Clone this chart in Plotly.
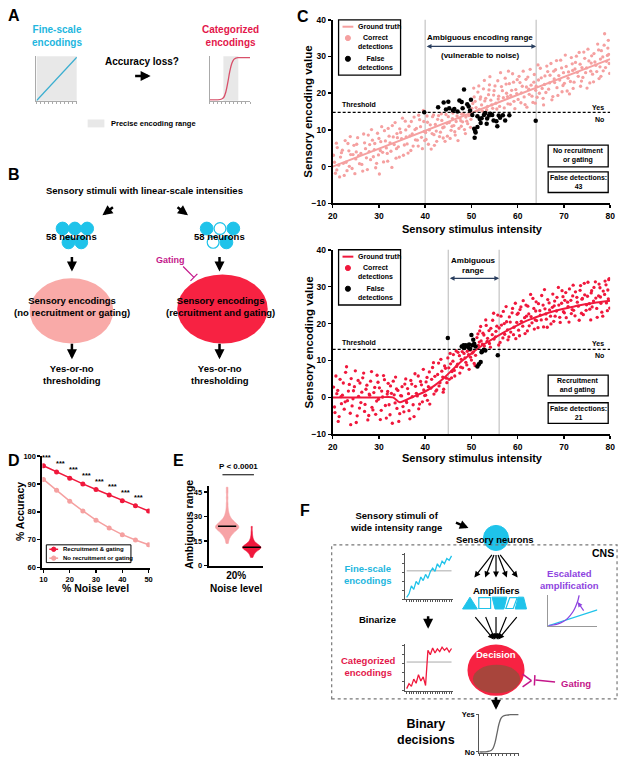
import plotly.graph_objects as go
import numpy as np

W, H = 625, 764
FONT = "Liberation Sans, Arial, Helvetica, sans-serif"

# ======================= DATA =======================
# Panel A sketches
A_FINE_X = [0, 10]
A_FINE_Y = [0, 1]
A_CAT_X = [0, 1, 2, 3, 3.5, 4, 4.5, 5, 5.5, 6, 6.5, 7, 8, 9, 10]
A_CAT_Y = [0.02, 0.02, 0.02, 0.04, 0.08, 0.2, 0.42, 0.68, 0.86, 0.95, 0.98, 0.99, 0.99, 0.99, 0.99]
A_PRECISE_FINE = [0, 10]
A_PRECISE_CAT = [3.4, 7.1]

# Panel C (top): no recruitment or gating
C_XTICKS = [20, 30, 40, 50, 60, 70, 80]
C_YTICKS = [-10, 0, 10, 20, 30, 40]
GT_TOP_X = [20, 80]
GT_TOP_Y = [0.0, 29.3]
THRESH_TOP = 14.8
AMB_TOP = [40, 64]
N_FALSE_TOP = 43
CORR_TOP = [
    (20.2, 3.1), (20.6, -1.8), (21.0, 5.2), (21.3, 0.4), (21.7, 2.6), (20.9, -0.9),
    (22.1, 4.5), (22.5, -2.4), (22.9, 1.2), (23.3, 6.3), (23.6, 0.1), (23.9, 3.3),
    (24.2, -0.5), (24.6, 5.8), (25.0, 2.1), (25.4, 7.9), (25.8, 0.8), (25.1, 4.0),
    (26.1, 3.6), (26.5, -1.2), (26.9, 6.5), (27.3, 2.4), (27.7, 8.6), (27.9, 4.1),
    (28.2, 1.9), (28.6, 7.2), (29.0, 4.6), (29.3, -0.3), (29.7, 9.1), (29.9, 3.2),
    (30.1, -2.0), (30.4, 6.8), (30.8, 3.9), (31.2, 9.8), (31.6, 5.1), (31.9, 1.5),
    (32.2, 8.3), (32.6, 4.2), (32.9, 11.2), (33.3, 6.0), (33.7, 2.3), (33.9, 9.0),
    (34.2, 5.4), (34.5, 10.3), (34.9, 7.6), (35.3, 3.1), (35.7, 12.4), (35.9, 8.1),
    (36.1, 6.2), (36.5, 11.0), (36.9, 4.4), (37.2, 8.9), (37.6, 13.5), (37.9, 7.3),
    (38.1, 10.4), (38.5, 5.6), (38.8, 12.8), (39.2, 8.0), (39.6, 15.3), (39.8, 9.6),
    (40.2, 7.4), (40.5, 12.1), (40.9, 10.0), (41.3, 4.8), (41.6, 13.6), (41.9, 8.7),
    (42.2, 11.5), (42.5, 6.9), (42.9, 13.9), (43.3, 9.4), (43.6, 12.6), (43.9, 7.8),
    (44.1, 10.8), (44.5, 14.2), (44.8, 8.3), (45.2, 12.0), (45.6, 9.9), (45.9, 13.1),
    (46.2, 11.2), (46.5, 8.6), (46.9, 13.8), (47.3, 10.4), (47.7, 12.5), (47.9, 14.3),
    (48.1, 12.2), (48.5, 10.1), (48.8, 13.5), (49.2, 11.7), (49.6, 14.0), (49.9, 12.9),
    (50.3, 17.2), (50.6, 19.0), (51.0, 16.1), (51.4, 20.3), (51.7, 15.6), (51.9, 18.4),
    (52.2, 16.8), (52.6, 21.2), (52.9, 17.9), (53.3, 15.5), (53.7, 19.6), (53.9, 22.3),
    (54.2, 18.1), (54.6, 15.9), (54.9, 20.7), (55.3, 17.3), (55.7, 23.4), (55.9, 19.2),
    (56.1, 16.4), (56.5, 21.8), (56.9, 18.8), (57.3, 24.1), (57.6, 20.0), (57.9, 17.1),
    (58.2, 22.6), (58.5, 19.4), (58.9, 25.3), (59.2, 17.8), (59.6, 21.0), (59.9, 23.7),
    (60.1, 18.3), (60.5, 22.9), (60.8, 20.1), (61.2, 26.0), (61.6, 16.9), (61.9, 21.7),
    (62.2, 24.4), (62.5, 19.7), (62.9, 22.2), (63.3, 17.5), (63.6, 25.1), (63.9, 20.8),
    (64.2, 18.9), (64.5, 23.6), (64.9, 26.8), (65.3, 21.3), (65.6, 16.8), (65.9, 24.7),
    (66.1, 20.2), (66.5, 25.9), (66.9, 22.8), (67.2, 28.1), (67.6, 19.1), (67.9, 23.9),
    (68.2, 26.4), (68.5, 21.5), (68.9, 24.8), (69.3, 29.0), (69.6, 20.4), (69.9, 25.6),
    (70.1, 22.7), (70.5, 27.3), (70.9, 24.1), (71.2, 19.8), (71.6, 29.7), (71.9, 26.2),
    (72.2, 23.0), (72.5, 28.4), (72.9, 25.7), (73.3, 31.1), (73.6, 21.9), (73.9, 27.0),
    (74.1, 24.3), (74.5, 29.5), (74.9, 26.9), (75.2, 32.0), (75.6, 22.8), (75.9, 28.2),
    (76.2, 25.2), (76.5, 30.8), (76.9, 27.6), (77.3, 33.4), (77.6, 24.0), (77.9, 29.3),
    (78.1, 31.6), (78.5, 26.1), (78.8, 36.2), (79.2, 28.7), (79.5, 32.3), (79.9, 25.4), (79.7, 30.6),
    (20.4, 1.2), (20.8, 6.4), (21.5, -2.8), (21.9, 3.8), (22.3, 0.9), (22.7, 7.1), (23.1, -1.1),
    (23.5, 4.3), (23.8, 8.2), (24.4, 3.3), (24.8, -1.9), (25.2, 6.1), (25.6, 3.0), (26.3, 0.6),
    (26.7, 8.9), (27.1, 4.9), (27.5, -0.8), (28.0, 6.0), (28.4, 10.1), (28.8, 2.7), (29.1, 6.3),
    (29.5, 0.9), (30.0, 7.7), (30.3, 4.4), (30.6, 10.9), (31.0, 1.3), (31.4, 7.0), (31.8, 3.6),
    (32.0, 10.4), (32.4, 6.5), (32.8, -0.2), (33.1, 8.1), (33.5, 12.0), (33.8, 4.9), (34.0, 7.9),
    (34.4, 2.6), (34.7, 9.3), (35.1, 13.2), (35.5, 5.9), (35.8, 10.0), (36.3, 3.7), (36.7, 8.4),
    (37.0, 12.3), (37.4, 5.6), (37.8, 10.1), (38.3, 7.2), (38.6, 14.0), (39.0, 10.9), (39.4, 4.9),
    (39.7, 12.3), (39.9, 7.1),
    (40.1, 9.3), (40.4, 13.8), (40.7, 6.1), (41.1, 11.4), (41.5, 9.0), (41.8, 14.1), (42.0, 5.8),
    (42.4, 9.7), (42.7, 12.9), (43.1, 8.2), (43.5, 14.4), (43.8, 10.6), (44.3, 6.9), (44.7, 11.8),
    (45.0, 13.6), (45.4, 7.7), (45.8, 11.0), (46.0, 14.6), (46.4, 9.5), (46.7, 12.3), (47.1, 7.1),
    (47.5, 13.2), (47.8, 11.0), (48.3, 14.5), (48.7, 9.0), (49.0, 12.4), (49.4, 13.9), (49.8, 10.7),
    (50.1, 15.9), (50.5, 21.4), (50.8, 17.8), (51.2, 15.2), (51.6, 22.0), (52.0, 19.0), (52.4, 15.1),
    (52.8, 23.5), (53.1, 18.6), (53.5, 16.4), (53.8, 20.9), (54.0, 24.5), (54.4, 16.8), (54.8, 19.5),
    (55.1, 22.0), (55.5, 15.7), (55.8, 18.4), (56.3, 25.6), (56.7, 20.7), (57.1, 16.0), (57.5, 22.5),
    (57.8, 19.1), (58.0, 26.0), (58.4, 17.0), (58.7, 20.8), (59.1, 23.0), (59.4, 15.8), (59.8, 19.9),
    (60.3, 24.6), (60.7, 17.4), (61.0, 21.9), (61.4, 19.0), (61.8, 23.8), (62.0, 16.2), (62.4, 21.1),
    (62.7, 26.5), (63.1, 19.2), (63.5, 23.0), (63.8, 17.3),
    (64.0, 21.9), (64.4, 27.7), (64.7, 20.0), (65.1, 24.2), (65.5, 18.6), (65.8, 22.4), (66.3, 27.4),
    (66.7, 21.1), (67.0, 24.9), (67.4, 18.2), (67.8, 26.0), (68.0, 22.9), (68.4, 28.9), (68.7, 19.4),
    (69.1, 23.6), (69.5, 26.9), (69.8, 22.1), (70.3, 30.4), (70.7, 20.6), (71.0, 25.8), (71.4, 23.2),
    (71.8, 28.0), (72.0, 21.3), (72.4, 26.6), (72.7, 30.1), (73.1, 24.6), (73.5, 27.9), (73.8, 23.3),
    (74.3, 31.2), (74.7, 25.6), (75.0, 21.4), (75.4, 28.8), (75.8, 26.0), (76.0, 30.2), (76.4, 23.1),
    (76.7, 28.5), (77.1, 25.9), (77.5, 31.8), (77.8, 27.2), (78.0, 24.6), (78.4, 29.9), (78.7, 33.1),
    (79.0, 27.0), (79.4, 30.3), (79.6, 34.4), (79.8, 28.1),
]
FALSE_TOP = [
    (39.8, 14.8), (42.8, 16.2), (44.0, 17.5), (45.0, 17.7), (45.2, 15.9), (46.0, 15.3),
    (46.3, 15.7), (47.0, 15.0), (47.4, 18.0), (47.9, 17.6), (48.4, 21.0), (49.1, 17.0),
    (49.4, 16.4), (49.7, 15.3), (49.9, 18.2), (50.2, 14.1), (50.6, 10.3), (50.8, 9.7),
    (50.7, 7.9), (50.9, 9.3), (51.3, 13.7), (51.8, 13.0), (52.0, 11.9), (52.7, 14.1),
    (53.0, 14.6), (53.4, 13.1), (53.8, 13.9), (54.1, 14.4), (54.5, 14.1), (53.3, 11.7),
    (54.8, 12.6), (55.4, 12.4), (55.9, 13.9), (56.2, 13.3), (56.8, 14.0), (57.3, 12.6),
    (58.2, 14.0), (63.9, 12.5), (44.5, 15.6), (48.1, 15.9), (51.3, 10.8), (52.2, 13.2),
    (55.6, 11.0),
]

# Panel C (bottom): recruitment and gating
GT_BOT_X = [20, 25, 30, 33, 34.5, 36, 38, 40, 42, 44, 46, 48, 50, 52, 54, 56, 58, 60, 62, 65, 68, 71, 74, 77, 80]
GT_BOT_Y = [0, 0, 0, 0, -1.3, -0.6, 0.5, 1.6, 3.2, 5.2, 7.6, 9.9, 11.9, 13.8, 15.4, 16.9, 18.3, 19.6, 20.8, 22.2, 23.4, 24.3, 25.1, 25.7, 26.2]
THRESH_BOT = 13.0
AMB_BOT = [45, 56]
N_FALSE_BOT = 21
CORR_BOT = [
    (20.2, 2.8), (20.5, -4.1), (20.9, 1.0), (21.2, -6.5), (21.6, 4.9), (21.9, -1.7),
    (22.1, 0.6), (22.5, -3.2), (22.8, 6.8), (23.2, -0.9), (23.6, 3.5), (23.9, -7.4),
    (24.2, -2.3), (24.5, 1.8), (24.9, 7.2), (25.3, -5.0), (25.6, 0.3), (25.9, 3.9),
    (26.1, -1.4), (26.5, 5.3), (26.9, -3.8), (27.2, 2.2), (27.6, -6.1), (27.9, 0.9),
    (28.2, 4.4), (28.5, -2.7), (28.9, 1.3), (29.3, -4.6), (29.6, 6.0), (29.9, -0.5),
    (30.1, 2.6), (30.5, -3.5), (30.8, 0.1), (31.2, 4.8), (31.6, -5.6), (31.9, 1.6),
    (32.2, -2.0), (32.5, 3.1), (32.9, -7.0), (33.3, 0.7), (33.6, 5.5), (33.9, -3.0),
    (34.1, 1.9), (34.5, -4.4), (34.9, 0.4), (35.2, -2.5), (35.6, 3.6), (35.9, -1.0),
    (36.2, 2.4), (36.5, -3.6), (36.9, 4.6), (37.2, 0.2), (37.6, -5.2), (37.9, 3.0),
    (38.1, 1.1), (38.5, 5.8), (38.8, -1.8), (39.2, 3.4), (39.6, 7.6), (39.9, 0.5),
    (40.2, 4.2), (40.5, -0.8), (40.9, 6.9), (41.2, 2.5), (41.6, 8.1), (41.9, 0.9),
    (42.1, 5.7), (42.5, 2.0), (42.9, 9.3), (43.2, 4.0), (43.6, 7.1), (43.9, 1.4),
    (44.2, 8.5), (44.6, 5.2), (44.9, 10.7),
    (45.2, 4.9), (45.5, 9.1), (45.8, 7.0), (46.1, 11.6), (46.4, 5.8), (46.8, 8.4), (47.1, 12.2), (47.5, 6.6),
    (47.8, 10.3), (48.1, 8.0), (48.4, 11.9), (48.8, 9.5), (49.1, 12.5), (49.5, 7.6), (49.8, 10.9),
    (50.2, 12.0), (50.6, 9.2), (50.9, 11.4),
    (51.2, 16.2), (51.5, 14.1), (51.8, 18.0), (52.1, 15.3), (52.5, 17.4), (52.8, 13.9), (53.2, 19.5),
    (53.5, 16.0), (53.9, 14.6), (54.2, 18.7), (54.6, 20.9), (54.9, 15.8), (55.3, 17.9), (55.7, 22.3),
    (56.2, 14.9), (56.5, 19.6), (56.9, 23.3), (57.2, 17.1), (57.6, 20.5), (57.9, 15.6),
    (58.2, 21.8), (58.5, 17.7), (58.9, 24.1), (59.2, 19.0), (59.6, 15.9), (59.9, 22.5),
    (60.2, 18.2), (60.5, 23.8), (60.8, 20.6), (61.2, 26.2), (61.6, 17.3), (61.9, 22.0),
    (62.2, 24.7), (62.5, 19.4), (62.9, 21.9), (63.3, 26.8), (63.6, 18.5), (63.9, 23.4),
    (64.1, 20.8), (64.5, 25.4), (64.9, 22.3), (65.2, 27.6), (65.6, 19.1), (65.9, 24.0),
    (66.2, 21.2), (66.5, 26.5), (66.9, 23.7), (67.2, 19.9), (67.6, 28.0), (67.9, 24.8),
    (68.1, 22.0), (68.5, 27.1), (68.9, 25.0), (69.2, 20.3), (69.6, 28.9), (69.9, 23.2),
    (70.2, 26.3), (70.5, 21.6), (70.9, 24.6), (71.2, 29.4), (71.6, 22.7), (71.9, 27.5),
    (72.1, 23.6), (72.5, 28.6), (72.9, 25.8), (73.3, 20.9), (73.6, 30.3), (73.9, 26.6),
    (74.2, 22.4), (74.5, 27.8), (74.9, 25.1), (75.2, 31.2), (75.6, 23.9), (75.9, 28.3),
    (76.1, 24.5), (76.5, 29.8), (76.9, 26.9), (77.2, 21.7), (77.6, 30.7), (77.9, 27.2),
    (78.2, 23.1), (78.5, 28.8), (78.9, 31.5), (79.2, 25.6), (79.5, 29.1), (79.9, 24.2), (79.7, 31.9),
    (20.4, -2.6), (20.7, 5.8), (21.1, 1.9), (21.4, -5.2), (21.8, 0.2), (22.3, 3.9), (22.7, -1.2),
    (23.0, 8.3), (23.4, 1.7), (23.8, -4.3), (24.0, 5.1), (24.4, -0.4), (24.7, 2.9), (25.1, -6.8),
    (25.5, 4.6), (25.8, -2.9), (26.3, 1.4), (26.7, 6.6), (27.0, -1.9), (27.4, 3.3), (27.8, -4.9),
    (28.0, 0.6), (28.4, 7.0), (28.7, -3.4), (29.1, 2.7), (29.5, -1.0), (29.8, 4.1), (30.3, -6.0),
    (30.6, 1.7), (31.0, 5.9), (31.4, -2.2), (31.8, 0.9), (32.0, 3.8), (32.4, -4.7), (32.7, 1.1),
    (33.1, 4.4), (33.5, -1.5), (33.8, 2.3), (34.3, -6.5), (34.7, 0.5), (35.0, 2.9), (35.4, -3.9),
    (35.8, 5.0), (36.0, -1.4), (36.4, 1.0), (36.7, -5.8), (37.1, 3.6), (37.4, -2.0), (37.8, 6.4),
    (38.3, 0.4), (38.6, -3.1), (39.0, 4.3), (39.4, -1.2), (39.7, 2.0),
    (40.1, 0.6), (40.4, 5.4), (40.7, 2.9), (41.0, -1.8), (41.4, 4.9), (41.8, 9.4), (42.3, 1.7),
    (42.7, 6.2), (43.0, 3.1), (43.4, 10.3), (43.8, 5.5), (44.0, 2.2), (44.4, 7.9), (44.7, 4.0),
    (45.1, 8.0), (45.4, 11.9), (45.7, 5.3), (46.0, 9.8), (46.3, 7.3), (46.7, 12.6), (47.0, 9.0),
    (47.4, 11.3), (47.7, 8.2), (48.0, 12.4), (48.6, 10.7), (49.0, 8.8), (49.4, 11.6), (49.7, 12.8),
    (50.0, 10.1), (50.4, 12.3), (50.8, 8.6),
    (51.4, 17.2), (51.7, 15.0), (52.0, 19.2), (52.4, 14.4), (52.7, 16.9), (53.1, 21.0), (53.4, 15.2),
    (53.8, 18.1), (54.1, 13.6), (54.5, 17.0), (54.8, 22.8), (55.2, 16.4), (55.5, 19.3), (55.9, 14.2),
    (56.0, 18.8), (56.4, 22.0), (56.8, 16.1), (57.1, 20.0), (57.5, 24.6), (57.8, 18.3), (58.1, 16.4),
    (58.4, 20.4), (58.8, 22.9), (59.1, 17.0), (59.5, 25.5), (59.8, 20.3), (60.1, 22.8), (60.4, 16.7),
    (60.7, 24.5), (61.1, 19.3), (61.5, 21.6), (61.8, 25.0), (62.1, 18.0), (62.4, 22.6), (62.8, 27.9),
    (63.1, 20.2), (63.5, 24.1), (63.8, 21.0), (64.0, 25.9), (64.4, 18.9), (64.8, 23.5), (65.1, 21.0),
    (65.5, 25.0), (65.8, 29.2), (66.1, 22.6), (66.4, 19.0), (66.8, 25.6), (67.1, 22.0), (67.5, 24.4),
    (67.8, 20.6), (68.0, 26.1), (68.4, 23.4), (68.8, 29.8), (69.1, 21.7), (69.5, 25.5), (69.8, 27.3),
    (70.1, 22.9), (70.4, 28.4), (70.8, 25.8), (71.1, 20.4), (71.5, 26.3), (71.8, 23.8), (72.0, 30.4),
    (72.4, 22.1), (72.8, 27.1), (73.1, 24.7), (73.5, 29.0), (73.8, 22.8), (74.0, 26.8), (74.4, 30.9),
    (74.8, 23.6), (75.1, 27.4), (75.5, 25.4), (75.8, 21.0), (76.0, 28.9), (76.4, 26.1), (76.8, 31.3),
    (77.1, 24.1), (77.5, 27.5), (77.8, 29.7), (78.0, 25.5), (78.4, 22.0), (78.8, 27.9), (79.1, 30.5),
    (79.4, 23.5), (79.6, 26.7), (79.8, 32.2),
]
FALSE_BOT = [
    (44.9, 16.1), (47.9, 13.8), (48.4, 13.4), (48.8, 14.1), (49.3, 13.6), (49.7, 13.2),
    (50.0, 16.9), (50.4, 15.6), (50.2, 14.1), (50.9, 13.8), (51.3, 8.4), (51.6, 9.0),
    (52.0, 9.6), (52.3, 12.5), (52.7, 12.9), (53.0, 12.7), (52.2, 12.2), (55.7, 11.4),
    (50.6, 14.5), (49.5, 14.3), (48.3, 14.1),
]

# Panel D: accuracy vs noise
NOISE = [10, 15, 20, 25, 30, 35, 40, 45, 50]
ACC_RG = [96.5, 94.3, 92.0, 90.0, 88.0, 86.0, 84.0, 82.2, 80.3]
ACC_NO = [91.6, 87.7, 83.8, 80.3, 77.0, 74.2, 71.8, 69.9, 68.2]
D_SIG = ['***'] * 9
D_XTICKS = [10, 20, 30, 40, 50]
D_YTICKS = [60, 70, 80, 90, 100]

# Panel E: ambiguous range at 20% noise
E_NO = [13.5, 15.2, 16.8, 17.5, 18.3, 18.9, 19.4, 19.8, 20.2, 20.6, 20.9, 21.2, 21.5, 21.8,
        22.0, 22.3, 22.5, 22.7, 22.9, 23.1, 23.3, 23.5, 23.6, 23.8, 24.0, 24.2, 24.4, 24.6,
        24.8, 25.0, 25.3, 25.5, 25.8, 26.1, 26.4, 26.7, 27.0, 27.4, 27.8, 28.3, 28.9, 29.6,
        30.5, 31.6, 33.0, 35.2, 38.0, 41.5, 45.0, 48.0]
E_RG = [5.0, 6.2, 7.1, 7.8, 8.4, 8.8, 9.2, 9.5, 9.8, 10.0, 10.2, 10.4, 10.6, 10.8, 10.9,
        11.0, 11.1, 11.2, 11.4, 11.5, 11.7, 11.9, 12.1, 12.3, 12.5, 12.8, 13.1, 13.5, 14.0,
        14.6, 15.3, 16.4, 18.0, 20.5, 24.0]
E_YTICKS = [0, 15, 30, 45]
E_P = "P < 0.0001"

# Panel F sketches
F_FINE_Y = [0.04, 0.12, 0.3, 0.22, 0.4, 0.33, 0.5, 0.42, 0.56, 0.47, 0.62, 0.7, 0.63, 0.8, 0.72, 0.86, 0.8, 0.92, 0.88, 0.98]
F_CAT_Y = [0.05, 0.16, 0.1, 0.26, 0.17, 0.36, 0.22, 0.31, 0.12, 0.9, 0.8, 0.95, 0.84, 0.93, 0.87, 0.97, 0.9, 0.95, 0.86, 0.94]
F_REF = 0.64
F_ESC_LIN_X = [0, 1]
F_ESC_LIN_Y = [0, 0.52]
F_ESC_EXP_X = [0, 0.1, 0.2, 0.3, 0.4, 0.5, 0.55, 0.6, 0.63]
F_ESC_EXP_Y = [0, 0.02, 0.06, 0.13, 0.25, 0.45, 0.6, 0.8, 1.0]
F_BIN_X = [0, 1, 2, 3, 3.5, 4, 4.5, 5, 5.5, 6, 7, 8, 10]
F_BIN_Y = [0.0, 0.0, 0.01, 0.04, 0.1, 0.25, 0.5, 0.75, 0.9, 0.96, 0.99, 1, 1]

# ======================= STYLE =======================
CYAN = '#1fc3ea'
CYAN_TXT = '#22b6de'
RED = '#f0183c'
RED_TXT = '#e3174b'
PINK = '#f5a0a0'
PINK_ELL = '#f9aaa8'
RED_ELL = '#f72242'
MAG = '#c4168a'
PURPLE = '#8e44e0'
BROWN = '#a8453c'


def X(px):
    return px / W


def Y(py):
    return 1 - py / H


fig = go.Figure()
axes = {}


def ax_names(i):
    s = '' if i == 1 else str(i)
    return 'x' + s, 'y' + s


def add_axes(i, xpx, ypx, xr, yr, xs=None, ys=None):
    xn, yn = ax_names(i)
    base = dict(showgrid=False, zeroline=False, fixedrange=True, showticklabels=False, ticks='', showline=False)
    xa = dict(base, domain=[xpx[0] / W, xpx[1] / W], range=xr, anchor=yn)
    ya = dict(base, domain=[1 - ypx[1] / H, 1 - ypx[0] / H], range=yr, anchor=xn)
    if xs:
        xa.update(xs)
    if ys:
        ya.update(ys)
    axes['xaxis' + xn[1:]] = xa
    axes['yaxis' + yn[1:]] = ya


def mstyle(ticks, size=8.5, lw=2):
    return dict(showline=True, linecolor='black', linewidth=lw, ticks='outside', ticklen=3, tickwidth=1.5,
                tickcolor='black', tickvals=ticks, showticklabels=True,
                tickfont=dict(family=FONT, size=size, color='black', weight='bold'))


def minis(color, dtick=None, ticks=True):
    d = dict(showline=True, linecolor=color, linewidth=1)
    if ticks:
        d.update(ticks='outside', ticklen=2, tickwidth=1, tickcolor=color, dtick=dtick, tick0=0)
    return d


add_axes(1, [333, 615], [15, 201], [20, 80], [-10, 40], mstyle(C_XTICKS), mstyle(C_YTICKS))
add_axes(2, [333, 615], [248, 435], [20, 80], [-10, 40], mstyle(C_XTICKS), mstyle(C_YTICKS))
add_axes(3, [38, 147], [457, 570], [9.6, 50.4], [60, 100], mstyle(D_XTICKS, 7.5), mstyle(D_YTICKS, 7.5))
add_axes(4, [207, 262], [487, 568], [-0.75, 1.45], [0, 49],
         dict(showline=True, linecolor='black', linewidth=2), mstyle(E_YTICKS, 7.5))
add_axes(5, [32, 73], [52, 97], [0, 10], [0, 1.02], minis('#aaaaaa', 1), minis('#aaaaaa', ticks=False))
add_axes(6, [208, 249], [52, 97], [0, 10], [0, 1.02], minis('#aaaaaa', 1), minis('#aaaaaa', ticks=False))
add_axes(7, [407, 455], [555, 602], [-0.5, 19.5], [0, 1.05], minis('#555555', 1), minis('#555555', 0.2))
add_axes(8, [407, 455], [647, 695], [-0.5, 19.5], [0, 1.05], minis('#555555', 1), minis('#555555', 0.2))
add_axes(9, [552, 602], [598, 629], [0, 1], [0, 1], minis('#999999', ticks=False), minis('#999999', ticks=False))
add_axes(10, [482, 522], [718, 758], [0, 10], [-0.03, 1.03], minis('#555555', 1),
         dict(showline=True, linecolor='#555555', linewidth=1, ticks='outside', ticklen=2, tickcolor='#555555',
              tickvals=[0, 1], ticktext=['No', 'Yes'], showticklabels=True,
              tickfont=dict(family=FONT, size=7.5, color='black', weight='bold')))


def tr(i, x, y, **kw):
    xn, yn = ax_names(i)
    fig.add_trace(go.Scatter(x=x, y=y, xaxis=xn, yaxis=yn, hoverinfo='skip', showlegend=False, **kw))


# ---- A sketches
tr(5, A_FINE_X, A_FINE_Y, mode='lines', line=dict(color='#3aaed0', width=1.3))
tr(6, A_CAT_X, A_CAT_Y, mode='lines', line=dict(color='#d8506a', width=1.3, shape='spline'))

# ---- C top
tr(1, [p[0] for p in CORR_TOP], [p[1] for p in CORR_TOP], mode='markers',
   marker=dict(color=PINK, size=3.3))
tr(1, GT_TOP_X, GT_TOP_Y, mode='lines', line=dict(color=PINK, width=2))
tr(1, [p[0] for p in FALSE_TOP], [p[1] for p in FALSE_TOP], mode='markers',
   marker=dict(color='black', size=4.5))

# ---- C bottom
tr(2, [p[0] for p in CORR_BOT], [p[1] for p in CORR_BOT], mode='markers',
   marker=dict(color=RED, size=3.3))
tr(2, GT_BOT_X, GT_BOT_Y, mode='lines', line=dict(color=RED, width=2, shape='spline'))
tr(2, [p[0] for p in FALSE_BOT], [p[1] for p in FALSE_BOT], mode='markers',
   marker=dict(color='black', size=4.5))

# ---- D
tr(3, NOISE, ACC_NO, mode='lines+markers', line=dict(color=PINK, width=1.5), marker=dict(color=PINK, size=5))
tr(3, NOISE, ACC_RG, mode='lines+markers', line=dict(color=RED, width=1.5), marker=dict(color=RED, size=5))

# ---- E
for pos, vals, col, wd in [(0, E_NO, '#f7a3a6', 0.95), (1, E_RG, RED, 0.75)]:
    fig.add_trace(go.Violin(y=vals, x0=pos, xaxis='x4', yaxis='y4', width=wd, fillcolor=col,
                            line=dict(color=col, width=0.6), opacity=1, points=False, spanmode='hard',
                            bandwidth=1.3, hoverinfo='skip', showlegend=False, scalemode='width'))
tr(4, [0, 1], [float(np.median(E_NO)), float(np.median(E_RG))], mode='markers',
   marker=dict(symbol='line-ew-open', size=13, color='black', line=dict(color='black', width=1.5)))

# ---- F sketches
tr(7, list(range(len(F_FINE_Y))), [F_REF] * len(F_FINE_Y), mode='lines', line=dict(color='#aaaaaa', width=1))
tr(7, list(range(len(F_FINE_Y))), F_FINE_Y, mode='lines', line=dict(color=CYAN, width=1.3))
tr(8, list(range(len(F_CAT_Y))), [F_REF] * len(F_CAT_Y), mode='lines', line=dict(color='#aaaaaa', width=1))
tr(8, list(range(len(F_CAT_Y))), F_CAT_Y, mode='lines', line=dict(color=RED, width=1.3))
tr(9, F_ESC_LIN_X, F_ESC_LIN_Y, mode='lines', line=dict(color=CYAN, width=1.3))
tr(9, F_ESC_EXP_X, F_ESC_EXP_Y, mode='lines', line=dict(color=PURPLE, width=1.3, shape='spline'))
tr(10, F_BIN_X, F_BIN_Y, mode='lines', line=dict(color='#666666', width=1.3, shape='spline'))

# ======================= SHAPES =======================
shapes = []


def circ(cx, cy, r, fill, line=None, lw=1):
    shapes.append(dict(type='circle', xref='paper', yref='paper', x0=X(cx - r), x1=X(cx + r),
                       y0=Y(cy + r), y1=Y(cy - r), fillcolor=fill, line=dict(color=line or fill, width=lw)))


def ell(cx, cy, rx, ry, fill):
    shapes.append(dict(type='circle', xref='paper', yref='paper', x0=X(cx - rx), x1=X(cx + rx),
                       y0=Y(cy + ry), y1=Y(cy - ry), fillcolor=fill, line=dict(width=0)))


def ln(x1, y1, x2, y2, color='black', width=1, dash=None):
    shapes.append(dict(type='line', xref='paper', yref='paper', x0=X(x1), y0=Y(y1), x1=X(x2), y1=Y(y2),
                       line=dict(color=color, width=width, dash=dash)))


def rect(x1, y1, x2, y2, fill='rgba(0,0,0,0)', line='black', lw=1.3, dash=None):
    shapes.append(dict(type='rect', xref='paper', yref='paper', x0=X(x1), y0=Y(y2), x1=X(x2), y1=Y(y1),
                       fillcolor=fill, line=dict(color=line, width=lw, dash=dash)))


def poly(pts, fill, line=None, lw=1):
    d = 'M ' + ' L '.join(f'{X(a):.5f},{Y(b):.5f}' for a, b in pts) + ' Z'
    shapes.append(dict(type='path', xref='paper', yref='paper', path=d, fillcolor=fill,
                       line=dict(color=line or fill, width=lw)))


# A: precise encoding ranges
shapes.append(dict(type='rect', xref='x5', yref='y5 domain', x0=A_PRECISE_FINE[0], x1=A_PRECISE_FINE[1],
                   y0=0, y1=1, fillcolor='#e8e8e8', line=dict(width=0), layer='below'))
shapes.append(dict(type='rect', xref='x6', yref='y6 domain', x0=A_PRECISE_CAT[0], x1=A_PRECISE_CAT[1],
                   y0=0, y1=1, fillcolor='#e8e8e8', line=dict(width=0), layer='below'))
rect(84, 116, 101, 124, fill='#e8e8e8', line='#e8e8e8', lw=0)

# B: neurons
for cx, cy in [(58.5, 226.5), (71, 226.5), (83.5, 226.5), (64.5, 240.5), (77.5, 240.5)]:
    circ(cx, cy, 6.5, CYAN)
for cx, cy, op in [(205, 226.5, 0), (218.5, 226.5, 1), (232, 226.5, 0), (211.5, 240.5, 1), (225, 240.5, 0)]:
    if op:
        circ(cx, cy, 6.0, 'white', CYAN, 1.2)
    else:
        circ(cx, cy, 6.5, CYAN)
ell(67.5, 310, 42.5, 33, PINK_ELL)
ell(221, 308, 46, 35, RED_ELL)
ln(181, 265, 192, 276, MAG, 1.2)
ln(188.5, 279.5, 195.5, 272.5, MAG, 1.2)

# C: thresholds and ambiguous ranges
for i, thr, amb in [(1, THRESH_TOP, AMB_TOP), (2, THRESH_BOT, AMB_BOT)]:
    xn, yn = ax_names(i)
    for a in amb:
        shapes.append(dict(type='line', xref=xn, yref=yn + ' domain', x0=a, x1=a, y0=0, y1=1,
                           line=dict(color='#c8c8c8', width=1.3), layer='below'))
    shapes.append(dict(type='line', xref=xn, yref=yn, x0=20, x1=80, y0=thr, y1=thr,
                       line=dict(color='black', width=1.2, dash='3px,2px')))

# C legends and boxes
for top, col in [(15, PINK), (248, RED)]:
    rect(339, top, 402, top + 56)
    ln(343, top + 7, 354, top + 7, col, 2)
    circ(348.5, top + 18.5, 2.6, col)
    circ(348.5, top + 39.5, 2.6, 'black')
rect(552, 142, 613, 164)
rect(552, 169, 613, 190)
rect(552, 375, 613, 396)
rect(552, 403, 613, 424)

# D legend
rect(42, 547, 128, 565, lw=1)
ln(45, 551.5, 54, 551.5, RED, 1.5)
circ(49.5, 551.5, 2.2, RED)
ln(45, 560.5, 54, 560.5, PINK, 1.5)
circ(49.5, 560.5, 2.2, PINK)

# E bracket
ln(221, 476, 253, 476, 'black', 1)

# F
circ(499, 540, 12.7, CYAN)
rect(332, 547, 622, 703, line='#777777', lw=1.2, dash='dot')
poly([(465, 612), (480, 612), (472.5, 600)], CYAN)
poly([(481.5, 600.5), (493.5, 600.5), (493.5, 611.5), (481.5, 611.5)], 'white', CYAN, 1.2)
poly([(495, 600), (510, 600), (507, 612), (498, 612)], CYAN)
poly([(513, 600.5), (520.5, 600.5), (516.5, 611.5), (509, 611.5)], 'white', CYAN, 1.2)
poly([(521.5, 600), (527, 600), (530, 612), (518.5, 612)], CYAN)
ell(499, 674, 29, 26, RED_ELL)
ell(499.5, 683, 24, 14.5, BROWN)
ln(559, 686, 539, 684, MAG, 1.5)
ln(538.5, 679, 538, 689.5, MAG, 1.5)
ln(526, 678, 535, 684.5, MAG, 1.5)
ln(526, 691, 535, 684.5, MAG, 1.5)

# ======================= ANNOTATIONS =======================
ann = []


def T(px, py, text, size=9.5, color='black', bold=True, xa='center', ya='middle', angle=0):
    ann.append(dict(x=X(px), y=Y(py), xref='paper', yref='paper', text=text, showarrow=False,
                    font=dict(family=FONT, size=size, color=color, weight='bold' if bold else 'normal'),
                    xanchor=xa, yanchor=ya, textangle=angle))


def AR(x1, y1, x2, y2, width=2, size=1.0, head=2, color='black'):
    ann.append(dict(x=X(x2), y=Y(y2), xref='paper', yref='paper', ax=x1 - x2, ay=y1 - y2,
                    axref='pixel', ayref='pixel', showarrow=True, arrowhead=head, arrowsize=size,
                    arrowwidth=width, arrowcolor=color, text=''))


# panel letters
for lt, px, py in [('A', 9, 11), ('B', 9, 172), ('C', 303, 12), ('D', 9, 462), ('E', 176, 462), ('F', 305, 512)]:
    T(px, py, lt, size=16)

# A
T(53, 31, 'Fine-scale<br>encodings', 10, CYAN_TXT)
T(229, 31, 'Categorized<br>encodings', 10, RED_TXT)
T(139, 57, 'Accuracy loss?', 10)
AR(131, 72, 148, 72, width=2.5, size=0.8)
T(106, 120, 'Precise encoding range', 7.5, xa='left')

# B
T(142, 188, 'Sensory stimuli with linear-scale intensities', 9.5)
AR(111, 204, 99, 213, width=2.5, size=0.8)
AR(174, 204, 186, 213, width=2.5, size=0.8)
T(68, 235, '58 neurons', 9.5)
T(218, 235, '58 neurons', 9.5)
AR(68, 254, 68, 270, width=2.5, size=0.8)
AR(218, 254, 218, 270, width=2.5, size=0.8)
T(168, 258, 'Gating', 9, MAG)
T(68, 306, 'Sensory encodings<br>(no recruitment or gating)', 9.5)
T(219, 306, 'Sensory encodings<br>(recruitment and gating)', 9.5)
AR(68, 342, 68, 359, width=2.5, size=0.8)
AR(218, 342, 218, 359, width=2.5, size=0.8)
T(68, 374.5, 'Yes-or-no<br>thresholding', 9.5)
T(219, 374.5, 'Yes-or-no<br>thresholding', 9.5)

# C top
T(308, 108, 'Sensory encoding value', 11.5, angle=-90)
T(475, 227, 'Sensory stimulus intensity', 11)
T(357, 22, 'Ground truth', 7, xa='left')
T(357, 37.5, 'Correct<br>detections', 7, xa='left')
T(357, 58.5, 'False<br>detections', 7, xa='left')
T(483, 33, 'Ambiguous encoding range', 8)
T(483, 51, '(vulnerable to noise)', 8)
ann.append(dict(x=AMB_TOP[1], y=Y(42), xref='x', yref='paper', ax=AMB_TOP[0], axref='x', ay=0, ayref='pixel',
                showarrow=True, arrowhead=2, arrowsize=0.8, arrowwidth=1.2, arrowside='end+start', text=''))
T(340, 101, 'Threshold', 7, xa='left')
T(611, 104, 'Yes', 7, xa='right')
T(611, 116, 'No', 7, xa='right')
T(582.5, 153, 'No recruitment<br>or gating', 7)
T(582.5, 179.5, f'False detections:<br>{N_FALSE_TOP}', 7)

# C bottom
T(308, 342, 'Sensory encoding value', 11.5, angle=-90)
T(475, 459, 'Sensory stimulus intensity', 11)
T(357, 255, 'Ground truth', 7, xa='left')
T(357, 270.5, 'Correct<br>detections', 7, xa='left')
T(357, 291.5, 'False<br>detections', 7, xa='left')
T(476, 264, 'Ambiguous<br>range', 8)
ann.append(dict(x=AMB_BOT[1], y=Y(277), xref='x2', yref='paper', ax=AMB_BOT[0], axref='x2', ay=0, ayref='pixel',
                showarrow=True, arrowhead=2, arrowsize=0.8, arrowwidth=1.2, arrowside='end+start', text=''))
T(340, 342, 'Threshold', 7, xa='left')
T(611, 343, 'Yes', 7, xa='right')
T(611, 355, 'No', 7, xa='right')
T(582.5, 385.5, 'Recruitment<br>and gating', 7)
T(582.5, 413.5, f'False detections:<br>{N_FALSE_BOT}', 7)

# D
T(16, 513, '% Accuracy', 10.5, angle=-90)
T(92, 591, '% Noise level', 10.5)
T(57, 551.5, 'Recruitment &amp; gating', 6, xa='left')
T(57, 560.5, 'No recruitment or gating', 6, xa='left')
for xv, yv, s in zip(NOISE, ACC_RG, D_SIG):
    ann.append(dict(x=xv + 1.3, y=yv + 3.0, xref='x3', yref='y3', text=s, showarrow=False,
                    font=dict(family=FONT, size=7.5, color='black', weight='bold')))

# E
T(187, 527, 'Ambiguous range', 10.5, angle=-90)
T(235, 585, '20%<br>Noise level', 10)
T(237, 468, E_P, 8)

# F
T(397, 523.5, 'Sensory stimuli of<br>wide intensity range', 9.5)
AR(457, 524, 471, 530, width=2.5, size=0.7)
T(498, 542, 'Sensory neurons', 9.5)
T(608, 555, 'CNS', 10.5)
T(369, 577.5, 'Fine-scale<br>encodings', 9.5, CYAN_TXT)
for hx in [477, 488, 499, 510, 521]:
    AR(499 + (hx - 499) * 0.15, 556, hx, 580, width=1.2, size=1)
T(499, 593, 'Amplifiers', 9.5)
T(574, 582, 'Escalated<br>amplification', 9.5, PURPLE)
AR(589, 615, 582, 605, width=1.2, size=0.8, color=PURPLE)
T(379, 623, 'Binarize', 9.5)
AR(430, 618, 430, 632, width=2.5, size=0.8)
for tx in [477, 488, 499, 510, 521]:
    AR(tx, 619, 499 + (tx - 499) * 0.1, 643, width=1.2, size=1)
T(369, 670.5, 'Categorized<br>encodings', 9.5, RED_TXT)
T(499, 658, 'Decision', 9.5, 'white')
T(580, 687, 'Gating', 9.5, MAG)
AR(499, 700, 499, 714, width=2.5, size=0.8)
T(428, 737, 'Binary<br>decisions', 12.5)

fig.update_layout(
    width=W, height=H, margin=dict(l=0, r=0, t=0, b=0),
    paper_bgcolor='white', plot_bgcolor='rgba(0,0,0,0)',
    showlegend=False, violinmode='overlay',
    shapes=shapes, annotations=ann, font=dict(family=FONT),
    **axes,
)

fig.write_html("out.html", config={'displayModeBar': False, 'staticPlot': True},
               post_script="document.body.style.margin='0';")
